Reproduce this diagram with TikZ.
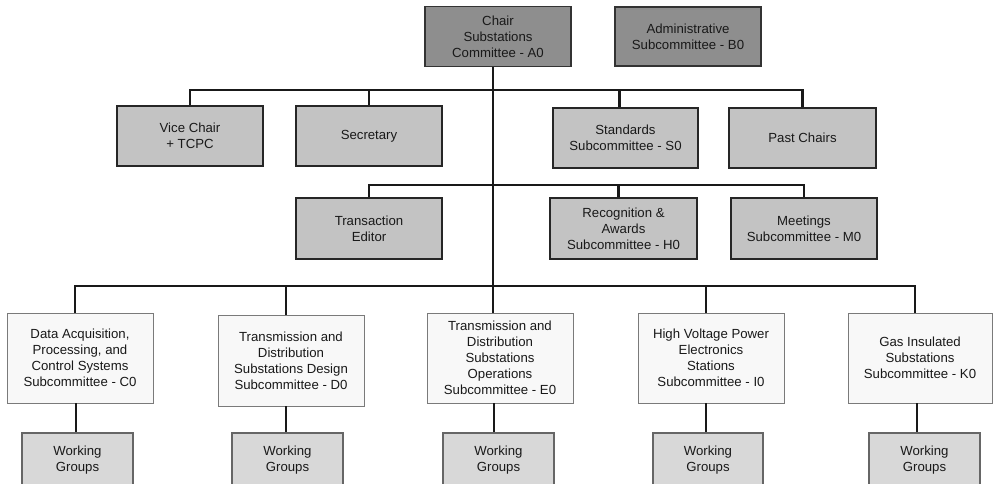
\documentclass[tikz,border=0pt]{standalone}
\usepackage{fontspec}
\setmainfont{Liberation Sans}
\definecolor{darkbox}{HTML}{8E8E8E}
\definecolor{midbox}{HTML}{C3C3C3}
\definecolor{wgbox}{HTML}{D8D8D8}
\definecolor{lightbox}{HTML}{F8F8F8}
\definecolor{lightedge}{HTML}{7A7A7A}
\begin{document}
\begin{tikzpicture}[x=0.75pt,y=-0.75pt,
  font=\fontsize{9.9pt}{12pt}\selectfont,
  sz/.style 2 args={minimum width=#1*0.75pt, minimum height=#2*0.75pt},
  base/.style={rectangle, align=center, inner sep=1pt, text=black!90},
  topbox/.style={base, fill=darkbox, draw=black!80, line width=1pt},
  midbx/.style={base, fill=midbox, draw=black!85, line width=1.1pt},
  subbox/.style={base, fill=lightbox, draw=lightedge, line width=0.7pt},
  wgbx/.style={base, fill=wgbox, draw=black!60, line width=0.8pt},
  conn/.style={draw=black!90, line width=1.7pt}]
\useasboundingbox (0,0) rectangle (993,483);
% top
\node[topbox, sz={146}{60}] (chair) at (498,36.5) {Chair\\Substations\\Committee - A0};
\node[topbox, sz={146}{59}] (admin) at (688,36.5) {Administrative\\Subcommittee - B0};
% level 2
\node[midbx, sz={146}{60}] (vice) at (190,136) {Vice Chair\\+ TCPC};
\node[midbx, sz={146}{60}] (sec) at (369,136) {Secretary};
\node[midbx, sz={145}{60}] (std) at (625.5,138) {Standards\\Subcommittee - S0};
\node[midbx, sz={147}{60}] (past) at (802.5,138) {Past Chairs};
% level 3
\node[midbx, sz={146}{61}] (trans) at (369,228.5) {Transaction\\Editor};
\node[midbx, sz={147}{61}] (recog) at (623.5,228.5) {Recognition \&\\Awards\\Subcommittee - H0};
\node[midbx, sz={146}{61}] (meet) at (804,228.5) {Meetings\\Subcommittee - M0};
% subcommittees
\node[subbox, sz={146}{90}] (c0) at (80,358) {Data Acquisition,\\Processing, and\\Control Systems\\Subcommittee - C0};
\node[subbox, sz={146}{91}] (d0) at (291,360.5) {Transmission and\\Distribution\\Substations Design\\Subcommittee - D0};
\node[subbox, sz={146}{90}] (e0) at (500,358) {Transmission and\\Distribution\\Substations\\Operations\\Subcommittee - E0};
\node[subbox, sz={146}{90}] (i0) at (711,358) {High Voltage Power\\Electronics\\Stations\\Subcommittee - I0};
\node[subbox, sz={144}{90}] (k0) at (920,358) {Gas Insulated\\Substations\\Subcommittee - K0};
% working groups
\node[wgbx, sz={111}{67}] (wgc) at (77.5,466.5) {Working\\Groups\\\mbox{}};
\node[wgbx, sz={111}{67}] (wgd) at (287.5,466.5) {Working\\Groups\\\mbox{}};
\node[wgbx, sz={111}{67}] (wge) at (498.5,466.5) {Working\\Groups\\\mbox{}};
\node[wgbx, sz={110}{67}] (wgi) at (708,466.5) {Working\\Groups\\\mbox{}};
\node[wgbx, sz={111}{67}] (wgk) at (924.5,466.5) {Working\\Groups\\\mbox{}};
% bus coordinates
\coordinate (b1) at (0,90);
\coordinate (b2) at (0,185);
\coordinate (b3) at (0,286);
\coordinate (tr) at ([xshift=-5*0.75pt]chair.south);
\coordinate (ct) at ([xshift=-5*0.75pt]c0.north);
\coordinate (kt) at ([xshift=-5*0.75pt]k0.north);
% trunk
\draw[conn] (tr) -- (tr |- e0.north);
% bus 1
\draw[conn] (vice.north) |- (b1 -| past.north) -- (past.north);
\draw[conn] (sec.north) -- (sec.north |- b1);
\draw[conn] ([xshift=-6*0.75pt]std.north) -- ([xshift=-6*0.75pt]std.north |- b1);
% bus 2
\draw[conn] (trans.north) |- (b2 -| meet.north) -- (meet.north);
\draw[conn] ([xshift=-5*0.75pt]recog.north) -- ([xshift=-5*0.75pt]recog.north |- b2);
% bus 3
\draw[conn] (ct) |- (b3 -| kt) -- (kt);
\draw[conn] ([xshift=-5*0.75pt]d0.north) -- ([xshift=-5*0.75pt]d0.north |- b3);
\draw[conn] ([xshift=-5*0.75pt]i0.north) -- ([xshift=-5*0.75pt]i0.north |- b3);
% working groups
\draw[conn] ([xshift=-4*0.75pt]c0.south) -- ([xshift=-4*0.75pt]c0.south |- wgc.north);
\draw[conn] ([xshift=-5*0.75pt]d0.south) -- ([xshift=-5*0.75pt]d0.south |- wgd.north);
\draw[conn] ([xshift=-6*0.75pt]e0.south) -- ([xshift=-6*0.75pt]e0.south |- wge.north);
\draw[conn] ([xshift=-5*0.75pt]i0.south) -- ([xshift=-5*0.75pt]i0.south |- wgi.north);
\draw[conn] ([xshift=-3*0.75pt]k0.south) -- ([xshift=-3*0.75pt]k0.south |- wgk.north);
\end{tikzpicture}
\end{document}
